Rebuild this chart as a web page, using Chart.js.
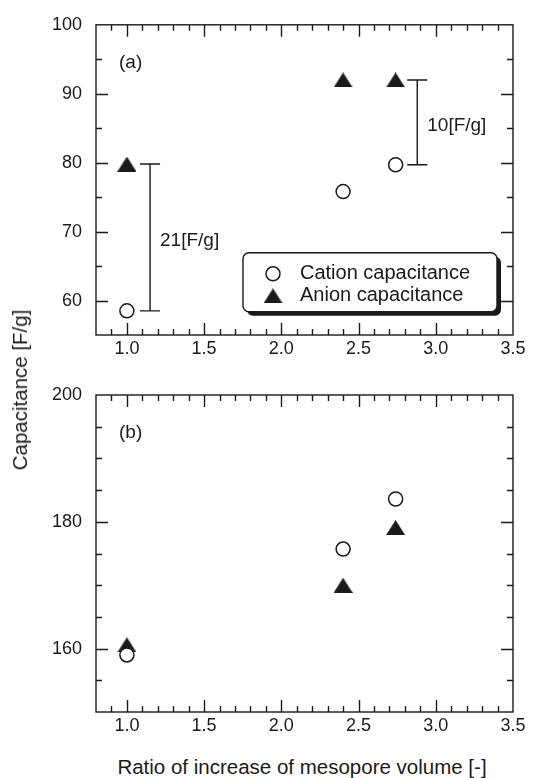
<!DOCTYPE html>
<html>
<head>
<meta charset="utf-8">
<script src="https://cdn.jsdelivr.net/npm/chart.js@4.4.1/dist/chart.umd.min.js"></script>
<style>
  html, body { margin: 0; padding: 0; background: #fff; }
  #page { position: relative; width: 546px; height: 778px; overflow: hidden;
          font-family: "Liberation Sans", Arial, Helvetica, sans-serif; color: #1a1a1a; }
  .panel { position: absolute; left: 0; width: 546px; height: 370px; }
  #yTitle { position: absolute; left: 20px; top: 390px; white-space: nowrap; font-size: 20.5px;
            transform: translate(-50%, -50%) rotate(-90deg); }
  #xTitle { position: absolute; left: 302px; top: 767px; white-space: nowrap; font-size: 20.5px;
            transform: translate(-50%, -50%); }
</style>
</head>
<body>
<div id="page">
  <div class="panel" style="top:0"><canvas id="chartA" width="546" height="370"></canvas></div>
  <div class="panel" style="top:370px"><canvas id="chartB" width="546" height="370"></canvas></div>
  <div id="yTitle">Capacitance [F/g]</div>
  <div id="xTitle">Ratio of increase of mesopore volume [-]</div>
</div>
<script>
const ratio = [1.0, 2.4, 2.74];
const cationA = [58.5, 75.8, 79.7];
const anionA = [79.8, 92.0, 92.0];
const cationB = [159.0, 175.7, 183.6];
const anionB = [160.6, 170.0, 179.1];

const xTicks = [1.0, 1.5, 2.0, 2.5, 3.0, 3.5];
const xTickLabels = ["1.0", "1.5", "2.0", "2.5", "3.0", "3.5"];
const yTicksA = [60, 70, 80, 90, 100];
const yTicksB = [160, 180, 200];
const seriesNames = ["Cation capacitance", "Anion capacitance"];

// brackets in panel (a): x position, index of the point pair, label
const bracketX = [1.15, 2.88];
const bracketAt = [0, 2];
const bracketText = ["21[F/g]", "10[F/g]"];

const FONT = '"Liberation Sans", Arial, Helvetica, sans-serif';
const INK = "#1a1a1a";

// filled triangle, centred on its bounding box
function triangleMark(w, h) {
  const c = document.createElement("canvas");
  c.width = w;
  c.height = h;
  const g = c.getContext("2d");
  g.fillStyle = INK;
  g.beginPath();
  g.moveTo(w / 2, 0);
  g.lineTo(w, h);
  g.lineTo(0, h);
  g.closePath();
  g.fill();
  return c;
}
const tri = triangleMark(19, 15);

function drawCircle(ctx, x, y) {
  ctx.beginPath();
  ctx.arc(x, y, 7, 0, Math.PI * 2);
  ctx.fillStyle = "#fff";
  ctx.fill();
  ctx.lineWidth = 1.5;
  ctx.strokeStyle = INK;
  ctx.stroke();
}

// box round the plot with inward ticks on all four sides
const framePlugin = {
  id: "frame",
  beforeDatasetsDraw(chart, args, opts) {
    const { ctx, chartArea: a, scales: { x, y } } = chart;
    ctx.save();
    ctx.strokeStyle = INK;
    ctx.lineWidth = 1.4;
    ctx.strokeRect(a.left, a.top, a.right - a.left, a.bottom - a.top);
    ctx.beginPath();
    for (let i = 9; i < 35; i++) {
      const px = Math.round(x.getPixelForValue(i / 10)) + 0.5;
      const len = i % 5 === 0 ? 12 : 6;
      ctx.moveTo(px, a.bottom); ctx.lineTo(px, a.bottom - len);
      ctx.moveTo(px, a.top); ctx.lineTo(px, a.top + len);
    }
    for (let v = y.min + 5; v < y.max; v += 5) {
      const py = Math.round(y.getPixelForValue(v)) + 0.5;
      const len = opts.major.includes(v) ? 12 : 6;
      ctx.moveTo(a.left, py); ctx.lineTo(a.left + len, py);
      ctx.moveTo(a.right, py); ctx.lineTo(a.right - len, py);
    }
    ctx.stroke();
    ctx.fillStyle = INK;
    ctx.font = "19px " + FONT;
    ctx.textBaseline = "middle";
    ctx.fillText(opts.tag, a.left + 23, a.top + 38);
    ctx.restore();
  }
};

// difference brackets and legend box, panel (a) only
const notesPlugin = {
  id: "notes",
  afterDatasetsDraw(chart) {
    const { ctx, chartArea: a, scales: { x, y } } = chart;
    ctx.save();
    ctx.strokeStyle = INK;
    ctx.fillStyle = INK;
    ctx.lineWidth = 1.4;
    ctx.font = "19px " + FONT;
    ctx.textBaseline = "middle";
    bracketX.forEach((bx, k) => {
      const i = bracketAt[k];
      const px = x.getPixelForValue(bx);
      const top = y.getPixelForValue(anionA[i]);
      const bot = y.getPixelForValue(cationA[i]);
      ctx.beginPath();
      ctx.moveTo(px, top); ctx.lineTo(px, bot);
      ctx.moveTo(px - 10, top); ctx.lineTo(px + 10, top);
      ctx.moveTo(px - 10, bot); ctx.lineTo(px + 10, bot);
      ctx.stroke();
      ctx.fillText(bracketText[k], px + 10, (top + bot) / 2 + 3);
    });

    const bx = a.left + 147, by = a.top + 228, bw = 254, bh = 59;
    ctx.beginPath();
    ctx.roundRect(bx + 4, by + 4, bw, bh, 6);
    ctx.fill();
    ctx.beginPath();
    ctx.roundRect(bx, by, bw, bh, 6);
    ctx.fillStyle = "#fff";
    ctx.fill();
    ctx.stroke();
    drawCircle(ctx, bx + 30, by + 21);
    ctx.drawImage(tri, bx + 30 - tri.width / 2, by + 43 - tri.height / 2);
    ctx.fillStyle = INK;
    ctx.font = "20px " + FONT;
    ctx.fillText(seriesNames[0], bx + 57, by + 21);
    ctx.fillText(seriesNames[1], bx + 57, by + 43);
    ctx.restore();
  }
};

function makePanel(id, cation, anion, yMin, yMax, yTicks, tag, padTop, xHeight, extra) {
  const tickFont = { family: FONT, size: 18 };
  return new Chart(document.getElementById(id), {
    type: "scatter",
    data: {
      datasets: [
        {
          label: seriesNames[0],
          data: ratio.map((r, i) => ({ x: r, y: cation[i] })),
          pointStyle: "circle",
          pointRadius: 7,
          borderWidth: 1.5,
          borderColor: INK,
          backgroundColor: "#fff"
        },
        {
          label: seriesNames[1],
          data: ratio.map((r, i) => ({ x: r, y: anion[i] })),
          pointStyle: tri,
          pointRadius: 8
        }
      ]
    },
    options: {
      responsive: false,
      animation: false,
      devicePixelRatio: 1,
      layout: { padding: { top: padTop, right: 33, left: 0, bottom: 0 } },
      plugins: {
        legend: { display: false },
        tooltip: { enabled: false },
        frame: { major: yTicks, tag: tag }
      },
      scales: {
        x: {
          type: "linear",
          min: 0.8,
          max: 3.5,
          afterBuildTicks: s => { s.ticks = xTicks.map(v => ({ value: v })); },
          afterFit: s => { s.height = xHeight; },
          grid: { display: false, drawTicks: false },
          border: { display: false },
          ticks: {
            padding: 3,
            color: INK,
            font: tickFont,
            autoSkip: false,
            maxRotation: 0,
            callback: v => xTickLabels[xTicks.indexOf(v)]
          }
        },
        y: {
          type: "linear",
          min: yMin,
          max: yMax,
          afterBuildTicks: s => { s.ticks = yTicks.map(v => ({ value: v })); },
          afterFit: s => { s.width = 96; },
          grid: { display: false, drawTicks: false },
          border: { display: false },
          ticks: { padding: 14, color: INK, font: tickFont, autoSkip: false }
        }
      }
    },
    plugins: [framePlugin].concat(extra)
  });
}

makePanel("chartA", cationA, anionA, 55, 100, yTicksA, "(a)", 20, 35, [notesPlugin]);
makePanel("chartB", cationB, anionB, 150, 200, yTicksB, "(b)", 25, 28, []);
</script>
</body>
</html>
